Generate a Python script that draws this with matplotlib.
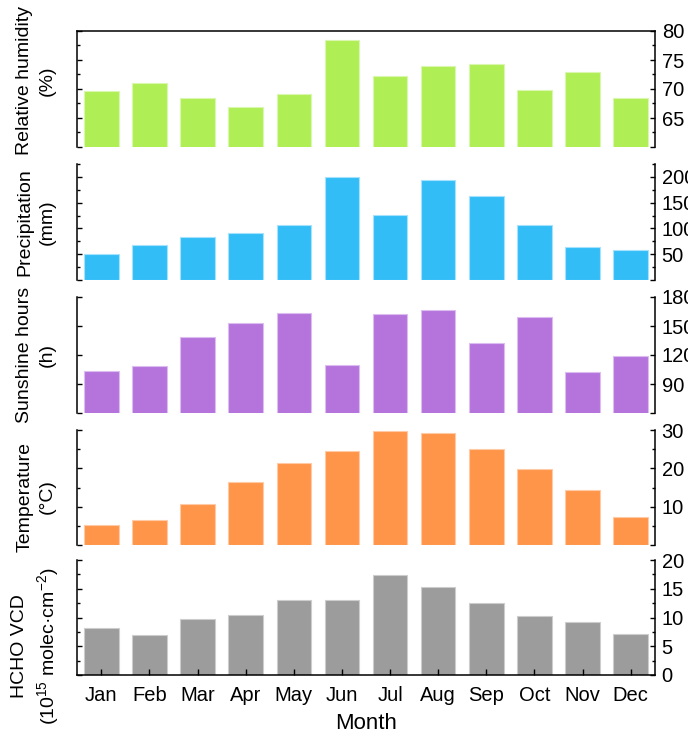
import matplotlib
matplotlib.use("Agg")
import matplotlib.pyplot as plt
from matplotlib.ticker import MultipleLocator, FuncFormatter

plt.rcParams["font.family"] = ["Liberation Sans", "DejaVu Sans"]
plt.rcParams["mathtext.fontset"] = "custom"
plt.rcParams["mathtext.rm"] = "Liberation Sans"
plt.rcParams["mathtext.default"] = "regular"

months = ["Jan", "Feb", "Mar", "Apr", "May", "Jun",
          "Jul", "Aug", "Sep", "Oct", "Nov", "Dec"]

humidity = [69.7, 71.0, 68.5, 66.9, 69.1, 78.4, 72.2, 74.0, 74.3, 69.9, 73.0, 68.5]
precip = [49.7, 67.7, 83.2, 91.6, 105.8, 200.0, 126.0, 193.0, 162.0, 106.6, 64.6, 58.8]
sunshine = [103.7, 108.3, 138.9, 153.4, 163.5, 109.4, 162.0, 167.0, 132.0, 159.7, 102.4, 119.4]
temperature = [5.1, 6.5, 10.7, 16.4, 21.5, 24.4, 29.8, 29.3, 25.1, 19.9, 14.3, 7.3]
hcho = [8.2, 6.9, 9.7, 10.4, 13.0, 13.0, 17.4, 15.3, 12.6, 10.3, 9.3, 7.1]

# (values, ylabel, color, edge, ylim, major, minor, label y pos, show lowest label)
panels = [
    (humidity, "Relative humidity\n(%)", "#B0EE55", "#D9F7AE", (60, 80), 5, 2.5, 0.57, False),
    (precip, "Precipitation\n(mm)", "#33BDF7", "#A6E2FB", (0, 225), 50, 25, 0.5, False),
    (sunshine, "Sunshine hours\n(h)", "#B574DC", "#DCBDEF", (60, 180), 30, None, 0.5, False),
    (temperature, "Temperature\n(\u00b0C)", "#FF9549", "#FFCBA6", (0, 30), 10, 5, 0.42, False),
    (hcho, "HCHO VCD\n(10$^{15}$ molec\u00b7cm$^{-2}$)", "#9C9C9C", "#CDCDCD", (0, 20), 5, 2.5, 0.25, True),
]

# panel extents in pixels (top, bottom)
extents = [(31, 147), (164, 280), (297, 413), (430, 545), (560, 675)]

W, H = 688, 734
fig = plt.figure(figsize=(W / 100, H / 100), dpi=100)
left = 77.3 / W
width = (654.7 - 77.3) / W
x = list(range(len(months)))

for i, (vals, label, color, edge, ylim, major, minor, ly, show_low) in enumerate(panels):
    top, bot = extents[i]
    ax = fig.add_axes([left, 1 - bot / H, width, (bot - top) / H])
    # bars start at 0 and are clipped at the axis floor
    ax.bar(x, vals, width=0.72, color=color, edgecolor=edge, linewidth=0.8)
    ax.set_xlim(-0.5, 11.5)
    ax.set_ylim(*ylim)
    ax.yaxis.set_major_locator(MultipleLocator(major))
    if minor:
        ax.yaxis.set_minor_locator(MultipleLocator(minor))
    low = ylim[0]
    ax.yaxis.set_major_formatter(FuncFormatter(
        lambda v, p, low=low, show=show_low: ("" if (abs(v - low) < 1e-6 and not show) else f"{v:g}")))
    ax.tick_params(axis="y", which="both", direction="in", left=True, right=True,
                   labelleft=False, labelright=True, width=1.0, labelsize=14.5, pad=5)
    ax.tick_params(axis="y", which="major", length=3.5)
    ax.tick_params(axis="y", which="minor", length=2.2)
    for s in ("left", "right", "top", "bottom"):
        ax.spines[s].set_linewidth(1.1)
    ax.spines["top"].set_visible(i == 0)
    ax.spines["bottom"].set_visible(i == len(panels) - 1)
    ax.set_ylabel(label, fontsize=14, linespacing=1.4, ha="center", va="center")
    ax.yaxis.set_label_coords(-0.0715, ly)
    if i == len(panels) - 1:
        ax.set_xticks(x)
        ax.set_xticklabels(months)
        ax.tick_params(axis="x", direction="in", length=4.5, width=1.0, labelsize=14.5, pad=8)
        ax.set_xlabel("Month", fontsize=16, labelpad=6)
    else:
        ax.set_xticks([])

fig.savefig("out.png", dpi=100)
